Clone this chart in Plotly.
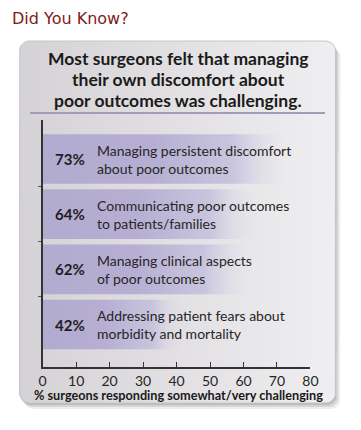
import math
import plotly.graph_objects as go

# ---- data ----
categories = [
    "Managing persistent discomfort<br>about poor outcomes",
    "Communicating poor outcomes<br>to patients/families",
    "Managing clinical aspects<br>of poor outcomes",
    "Addressing patient fears about<br>morbidity and mortality",
]
values = [73, 64, 62, 42]
x_ticks = [0, 10, 20, 30, 40, 50, 60, 70, 80]
title_lines = ["Most surgeons felt that managing",
               "their own discomfort about",
               "poor outcomes was challenging."]
axis_title = "% surgeons responding somewhat/very challenging"
header = "Did You Know?"

W, H = 361, 430
FONT = "Lato"
TXT = "#262626"

fig = go.Figure()

# ---- decorative panel (pixel-coordinate axes x/y) ----
def rounded_rect(x0, y0, x1, y1, r):
    pts = []
    corners = [(x1 - r, y0 + r, -90, 0), (x1 - r, y1 - r, 0, 90),
               (x0 + r, y1 - r, 90, 180), (x0 + r, y0 + r, 180, 270)]
    for cx, cy, a0, a1 in corners:
        for k in range(7):
            a = math.radians(a0 + (a1 - a0) * k / 6)
            pts.append((cx + r * math.cos(a), cy + r * math.sin(a)))
    pts.append(pts[0])
    return [p[0] for p in pts], [p[1] for p in pts]

px0, py0, px1, py1 = 16, 41, 343, 403
for off, op in [(6, 0.10), (4, 0.16), (2, 0.2)]:
    sx, sy = rounded_rect(px0 + off - 1, py0 + off, px1 + off - 1, py1 + off, 10)
    fig.add_trace(go.Scatter(x=sx, y=sy, fill="toself", mode="lines",
                             line=dict(width=0), fillcolor=f"rgba(90,90,90,{op})",
                             hoverinfo="skip", showlegend=False, xaxis="x", yaxis="y"))
bx, by = rounded_rect(px0, py0, px1, py1, 10)
fig.add_trace(go.Scatter(x=bx, y=by, fill="toself", mode="lines",
                         line=dict(width=1, color="#c6c4ca"),
                         fillgradient=dict(type="horizontal",
                                           colorscale=[[0, "#d5d2d5"], [1, "#efeef0"]]),
                         hoverinfo="skip", showlegend=False, xaxis="x", yaxis="y"))

# ---- bars (data axes x2/y2) ----
half = 0.45
for i, v in enumerate(values):
    fig.add_trace(go.Scatter(
        x=[0, v, v, 0, 0], y=[i - half, i - half, i + half, i + half, i - half],
        fill="toself", mode="lines", line=dict(width=0),
        fillgradient=dict(type="horizontal",
                          colorscale=[[0, "rgba(178,171,208,1)"], [0.45, "rgba(182,175,211,1)"],
                                      [0.78, "rgba(194,189,220,0.8)"],
                                      [1, "rgba(225,223,236,0)"]]),
        hoverinfo="skip", showlegend=False, xaxis="x2", yaxis="y2"))

annotations = []
for i, (v, c) in enumerate(zip(values, categories)):
    annotations.append(dict(x=68, y=i, xref="x", yref="y2", text=f"<b>{v}%</b>",
                            showarrow=False, xanchor="center", yanchor="middle",
                            font=dict(family=FONT, size=15, color="#1e1e1e")))
    annotations.append(dict(x=94, y=i, xref="x", yref="y2", text=c, align="left",
                            showarrow=False, xanchor="left", yanchor="middle",
                            font=dict(family=FONT, size=14, color=TXT)))

annotations.append(dict(x=6, y=18, xref="x", yref="y", text=header, showarrow=False,
                        xanchor="left", yanchor="middle",
                        font=dict(family="DejaVu Sans", size=16, color="#7c1c20")))
for k, line in enumerate(title_lines):
    annotations.append(dict(x=180, y=58 + 21 * k, xref="x", yref="y", text=f"<b>{line}</b>",
                            showarrow=False, xanchor="center", yanchor="middle",
                            font=dict(family=FONT, size=17.5, color="#1a1a1a")))
annotations.append(dict(x=180, y=395, xref="x", yref="y", text=f"<b>{axis_title}</b>",
                        showarrow=False, xanchor="center", yanchor="middle",
                        font=dict(family=FONT, size=12.7, color="#1a1a1a")))

fig.update_layout(
    width=W, height=H, margin=dict(l=0, r=0, t=0, b=0),
    paper_bgcolor="white", plot_bgcolor="rgba(0,0,0,0)",
    showlegend=False,
    xaxis=dict(domain=[0, 1], range=[0, W], visible=False, fixedrange=True),
    yaxis=dict(domain=[0, 1], range=[H, 0], visible=False, fixedrange=True),
    xaxis2=dict(domain=[40 / W, 317 / W], range=[0, 80], anchor="y2",
                tickvals=x_ticks, ticktext=[str(t) for t in x_ticks],
                ticks="inside", ticklen=5, tickwidth=1.2, tickcolor="#333",
                showline=True, linecolor="#333", linewidth=1.5,
                showgrid=False, zeroline=False,
                tickfont=dict(family=FONT, size=14, color=TXT), fixedrange=True),
    yaxis2=dict(domain=[(H - 367) / H, (H - 120) / H], range=[3.77, -0.707], anchor="x2",
                tickvals=[0.5, 1.5, 2.5], ticks="outside", ticklen=3, tickcolor="#555",
                showticklabels=False, showline=True, linecolor="#333", linewidth=1.5,
                showgrid=False, zeroline=False, fixedrange=True),
    shapes=[dict(type="line", xref="x", yref="y", x0=27, x1=332, y0=113, y1=113,
                 line=dict(color="#a09cba", width=2))],
    annotations=annotations,
)

fig.write_html("out.html", config={"displayModeBar": False},
               post_script="document.body.style.margin='0';document.body.style.overflow='hidden';")
